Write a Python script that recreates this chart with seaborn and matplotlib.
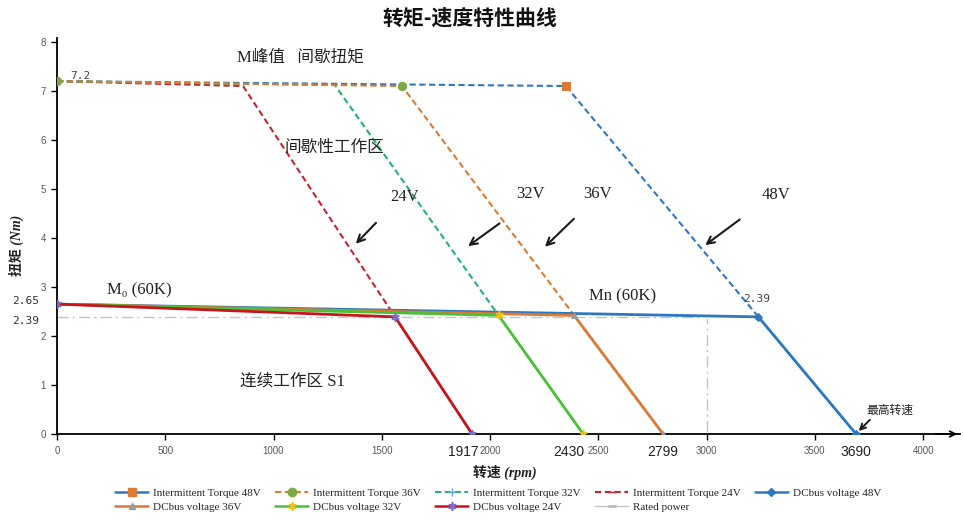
import matplotlib
matplotlib.use('Agg')
import matplotlib.pyplot as plt
import seaborn as sns
from matplotlib.lines import Line2D

sns.set_theme(style='white')
plt.rcParams['font.family'] = ['Liberation Serif', 'Noto Sans CJK SC', 'DejaVu Sans']
plt.rcParams['axes.unicode_minus'] = False

# ---------------- data ----------------
it48_x = [0, 2350, 3239, 3690]
it48_y = [7.2, 7.1, 2.39, 0]
it36_x = [0, 1593, 2388, 2799]
it36_y = [7.2, 7.1, 2.42, 0]
it32_x = [0, 1283, 2039, 2430]
it32_y = [7.2, 7.12, 2.42, 0]
it24_x = [0, 859, 1561, 1917]
it24_y = [7.2, 7.1, 2.39, 0]

dc48_x = [0, 3239, 3690]
dc48_y = [2.65, 2.39, 0]
dc36_x = [0, 2388, 2799]
dc36_y = [2.65, 2.42, 0]
dc32_x = [0, 2039, 2430]
dc32_y = [2.65, 2.42, 0]
dc24_x = [0, 1561, 1917]
dc24_y = [2.65, 2.39, 0]

rated_x = [0, 3000, 3000]
rated_y = [2.39, 2.39, 0]

x_ticks = [0, 500, 1000, 1500, 2000, 2500, 3000, 3500, 4000]
y_ticks = [0, 1, 2, 3, 4, 5, 6, 7, 8]
speed_labels = ["1917", "2430", "2799", "3690"]
speed_vals = [1917, 2430, 2799, 3690]

labels = ["Intermittent Torque 48V", "Intermittent Torque 36V",
          "Intermittent Torque 32V", "Intermittent Torque 24V",
          "DCbus voltage 48V", "DCbus voltage 36V", "DCbus voltage 32V",
          "DCbus voltage 24V", "Rated power"]

# ---------------- styles ----------------
C_BLUE = '#2E78C2'
C_ORANGE = '#DB7A34'
C_GREEN_D = '#25B36A'
C_GREEN = '#4CC038'
C_RED_D = '#C2262E'
C_RED = '#C8141C'
C_GREY = '#C4C4C4'
dash = (0, (3.0, 1.7))
dashdot = (0, (8, 3, 1.5, 3))
star = (6, 2, 0)

fig = plt.figure(figsize=(9.64, 5.23), dpi=100)
ax = fig.add_axes([57/964, 89/523, 903/964, 396/523])

def line(x, y, **kw):
    sns.lineplot(x=x, y=y, ax=ax, sort=False, estimator=None, legend=False, **kw)

line(rated_x, rated_y, color=C_GREY, lw=1.0, linestyle=dashdot,
     marker='_', markersize=7, markeredgewidth=2, markevery=[1, 2], zorder=2)

line(it48_x, it48_y, color=C_BLUE, lw=1.5, linestyle=dash, marker='s',
     markersize=6, markerfacecolor=C_ORANGE, markeredgecolor=C_ORANGE,
     markevery=[1], zorder=3)
line(it24_x, it24_y, color=C_RED_D, lw=1.5, linestyle=dash, marker=None, zorder=3)
line(it32_x, it32_y, color=C_GREEN_D, lw=1.5, linestyle=dash, marker=None, zorder=3)
line(it36_x, it36_y, color=C_ORANGE, lw=1.5, linestyle=dash, marker='o',
     markersize=6, markerfacecolor='#7BAA45', markeredgecolor='#7BAA45',
     markevery=[0, 1], zorder=3)

line(dc48_x, dc48_y, color=C_BLUE, lw=2.0, marker='D', markersize=4,
     markerfacecolor=C_BLUE, markeredgecolor=C_BLUE, zorder=4)
line(dc36_x, dc36_y, color=C_ORANGE, lw=2.0, marker='^', markersize=5,
     markerfacecolor='#9A9A9A', markeredgecolor='#9A9A9A', markevery=[1, 2], zorder=4)
line(dc32_x, dc32_y, color=C_GREEN, lw=2.0, marker=star, markersize=6,
     markeredgecolor='#E8C21A', markerfacecolor='#E8C21A', markeredgewidth=1.2,
     markevery=[1, 2], zorder=4)
line(dc24_x, dc24_y, color=C_RED, lw=2.0, marker=star, markersize=6,
     markeredgecolor='#7A6BC8', markerfacecolor='#7A6BC8', markeredgewidth=1.2,
     zorder=5)

# ---------------- axes ----------------
ax.set_xlim(0, 4170)
ax.set_ylim(0, 8.08)
ax.set_xticks(x_ticks)
ax.set_yticks(y_ticks)
ax.set_xticklabels([str(v) for v in x_ticks], fontfamily='Liberation Sans',
                   fontsize=7, color='#595959')
ax.set_yticklabels([str(v) for v in y_ticks], fontfamily='Liberation Sans',
                   fontsize=7, color='#595959')
ax.tick_params(axis='both', direction='out', length=4, width=1, color='black',
               bottom=True, left=True)
ax.tick_params(axis='x', pad=5)
ax.tick_params(axis='y', pad=4)
for s in ['top', 'right']:
    ax.spines[s].set_visible(False)
for s in ['left', 'bottom']:
    ax.spines[s].set_color('black')
    ax.spines[s].set_linewidth(1.3)
ax.grid(False)
ax.annotate('', xy=(1.0, 0), xytext=(0.97, 0), xycoords='axes fraction',
            arrowprops=dict(arrowstyle='->', color='black', lw=1.3,
                            mutation_scale=10), annotation_clip=False)

# ---------------- texts ----------------
cjk_serif = ['Liberation Serif', 'Noto Sans CJK SC']
ax.text(1126, 7.69, 'M峰值   间歇扭矩', ha='center', va='center', fontsize=12,
        family=cjk_serif, color='#222222')
ax.text(1279, 5.84, '间歇性工作区', ha='center', va='center', fontsize=12,
        family=cjk_serif, color='#222222')
ax.text(379, 2.94, 'M₀ (60K)', ha='center', va='center', fontsize=12,
        family=['Liberation Serif', 'DejaVu Serif'], color='#222222')
ax.text(2613, 2.80, 'Mn (60K)', ha='center', va='center', fontsize=12,
        family=cjk_serif, color='#222222')
ax.text(1085, 1.08, '连续工作区 S1', ha='center', va='center', fontsize=12,
        family=cjk_serif, color='#222222')

volt_txt = ['24V', '32V', '36V', '48V']
volt_pos = [(1607, 4.84), (2184, 4.90), (2498, 4.90), (3320, 4.88)]
arrow_tail = [(1482, 4.35), (2054, 4.33), (2396, 4.43), (3163, 4.41)]
arrow_head = [(1371, 3.84), (1888, 3.80), (2244, 3.78), (2983, 3.82)]
for t, p, a, h in zip(volt_txt, volt_pos, arrow_tail, arrow_head):
    ax.text(p[0], p[1], t, ha='center', va='center', fontsize=12,
            family=cjk_serif, color='#222222')
    ax.annotate('', xy=h, xytext=a,
                arrowprops=dict(arrowstyle='->', color='#1a1a1a', lw=1.5,
                                mutation_scale=13))

ax.text(60, 7.3, '7.2', ha='left', va='center', fontsize=8,
        family='DejaVu Sans Mono', color='#444444')
ax.text(3232, 2.76, '2.39', ha='center', va='center', fontsize=8,
        family='DejaVu Sans Mono', color='#444444')
ax.text(-143, 2.72, '2.65', ha='center', va='center', fontsize=8,
        family='DejaVu Sans Mono', color='#333333', clip_on=False)
ax.text(-143, 2.30, '2.39', ha='center', va='center', fontsize=8,
        family='DejaVu Sans Mono', color='#333333', clip_on=False)

sp_x = [1947, 2435, 2799, 3690]
sp_ha = ['right', 'right', 'center', 'center']
for lab, x, ha in zip(speed_labels, sp_x, sp_ha):
    ax.text(x, -0.37, lab, ha=ha, va='center', fontsize=10,
            family=['Liberation Sans'], color='#222222', clip_on=False)

ax.text(3846, 0.49, '最高转速', ha='center', va='center', fontsize=8.5,
        family=['Noto Sans CJK SC'], color='#222222')
ax.annotate('', xy=(3693, 0.02), xytext=(3763, 0.33),
            arrowprops=dict(arrowstyle='->', color='#1a1a1a', lw=1.4,
                            mutation_scale=10))

fig.text(470/964, 1 - 18/523, '转矩-速度特性曲线', ha='center', va='center',
         fontsize=15, fontweight='bold', family=['Noto Sans CJK SC'], color='#111111')
fig.text(505/964, 1 - 472/523, '转速 (rpm)', ha='center', va='center',
         fontsize=10, fontweight='bold', style='italic',
         family=['Liberation Serif', 'Noto Sans CJK SC'], color='#222222')
fig.text(16/964, 1 - 245/523, '扭矩 (Nm)', ha='center', va='center', rotation=90,
         fontsize=10, fontweight='bold', style='italic',
         family=['Liberation Serif', 'Noto Sans CJK SC'], color='#222222')

# ---------------- legend ----------------
handles = [
    Line2D([], [], color=C_BLUE, lw=1.8, marker='s', ms=6, mfc=C_ORANGE, mec=C_ORANGE),
    Line2D([], [], color=C_ORANGE, lw=1.5, linestyle=dash, marker='o', ms=6,
           mfc='#7BAA45', mec='#7BAA45'),
    Line2D([], [], color=C_GREEN_D, lw=1.5, linestyle=dash, marker='+', ms=6,
           mec='#5AA9D6'),
    Line2D([], [], color=C_RED_D, lw=1.5, linestyle=dash, marker='_', ms=6, mec=C_RED_D),
    Line2D([], [], color=C_BLUE, lw=1.8, marker='D', ms=4, mfc=C_BLUE, mec=C_BLUE),
    Line2D([], [], color=C_ORANGE, lw=1.8, marker='^', ms=5, mfc='#9A9A9A', mec='#9A9A9A'),
    Line2D([], [], color=C_GREEN, lw=1.8, marker=star, ms=6, mec='#E8C21A', mew=1.2),
    Line2D([], [], color=C_RED, lw=1.8, marker=star, ms=6, mec='#7A6BC8', mew=1.2),
    Line2D([], [], color=C_GREY, lw=1.0, marker='_', ms=6, mec='#BBBBBB', mew=2),
]
order = [0, 5, 1, 6, 2, 7, 3, 8, 4]
leg = ax.legend([handles[i] for i in order], [labels[i] for i in order],
                ncol=5, loc='center', bbox_to_anchor=(498/964, 1 - 500/523),
                bbox_transform=fig.transFigure, frameon=False,
                prop={'family': 'Liberation Serif', 'size': 8},
                handlelength=3.0, handletextpad=0.4, columnspacing=1.3,
                labelspacing=0.4, borderpad=0.2)

fig.savefig('out.png', dpi=100)
